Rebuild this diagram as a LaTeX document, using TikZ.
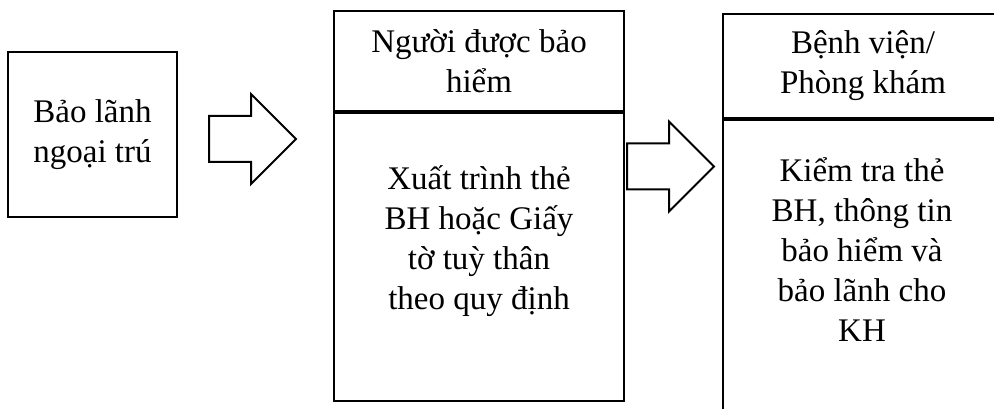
\documentclass[tikz,border=0pt]{standalone}
\usepackage{fontspec}
\setmainfont{Liberation Serif}
\usetikzlibrary{positioning,shapes.arrows}

\tikzset{
  box/.style = {draw, line width=2pt, rectangle, align=center, inner sep=0pt,
                font=\fontsize{33}{40}\selectfont},
  txt/.style = {align=center, inner sep=0pt, font=\fontsize{33}{40}\selectfont},
  blockarrow/.style = {draw, line width=2pt, single arrow, inner xsep=0pt, inner ysep=22pt,
                minimum height=87pt, single arrow head extend=22pt},
}

\begin{document}
\begin{tikzpicture}[x=1pt, y=-1pt]
  \useasboundingbox (0,0) rectangle (994,409);
  \clip (0,0) rectangle (994,409);

  % buoc 1
  \node[box, minimum width=169pt, minimum height=165pt] (baolanh) at (92.5,134.5)
    {Bảo lãnh\\ngoại trú};
  \node[blockarrow, right=30pt of baolanh, yshift=-4.5pt] (mui1) {};

  % buoc 2: nguoi duoc bao hiem
  \node[box, minimum width=290pt, minimum height=100pt, anchor=north west] (nguoi) at (333,10)
    {Người được bảo\\hiểm};
  \node[box, minimum width=290pt, minimum height=288pt, below=0pt of nguoi] (xuat) {};
  \node[txt, below=53pt of xuat.north] (xuattxt)
    {Xuất trình thẻ\\BH hoặc Giấy\\tờ tuỳ thân\\theo quy định};
  \node[blockarrow, anchor=west] (mui2) at (626,166.5) {};

  % buoc 3: benh vien
  \node[box, minimum width=280pt, minimum height=104pt, anchor=north west] (benhvien) at (722,13)
    {Bệnh viện/\\Phòng khám};
  \node[box, minimum width=280pt, minimum height=330pt, below=0pt of benhvien] (kiem) {};
  \node[txt] (kiemtxt) at (862,250)
    {Kiểm tra thẻ\\BH, thông tin\\bảo hiểm và\\bảo lãnh cho\\KH};
\end{tikzpicture}
\end{document}
